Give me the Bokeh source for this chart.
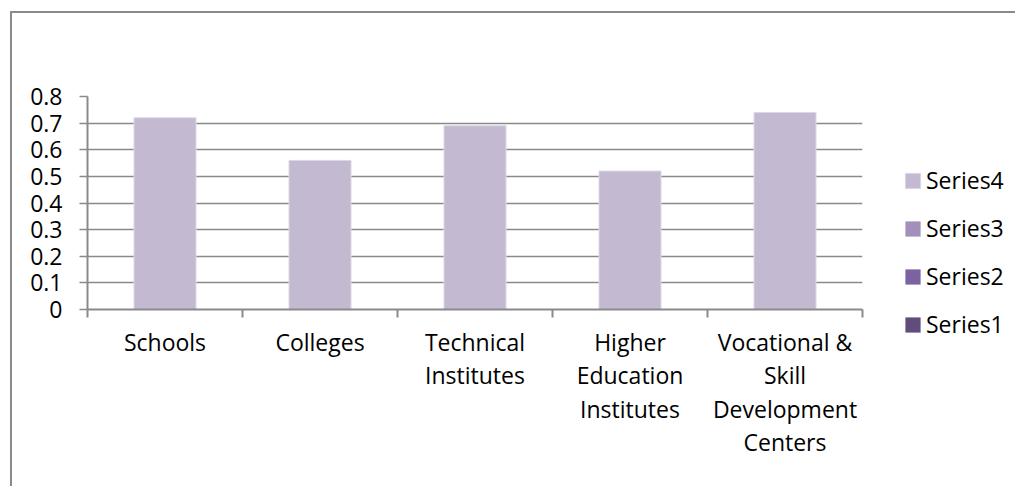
from bokeh.plotting import figure
from bokeh.models import (ColumnDataSource, FixedTicker, NumeralTickFormatter, Legend,
                          LegendItem, Range1d)
from bokeh.embed import file_html
from bokeh.resources import INLINE

# ---- data ----
categories = ["Schools", "Colleges", "Technical Institutes",
              "Higher Education Institutes", "Vocational & Skill Development Centers"]
category_labels = ["Schools", "Colleges", "Technical\nInstitutes",
                   "Higher\nEducation\nInstitutes", "Vocational &\nSkill\nDevelopment\nCenters"]
series_names = ["Series1", "Series2", "Series3", "Series4"]
series1 = [0, 0, 0, 0, 0]
series2 = [0, 0, 0, 0, 0]
series3 = [0, 0, 0, 0, 0]
series4 = [0.72, 0.56, 0.69, 0.52, 0.74]
series_colors = ["#614D7C", "#7C62A0", "#A28FBB", "#C3BAD1"]
y_ticks = [0, 0.1, 0.2, 0.3, 0.4, 0.5, 0.6, 0.7, 0.8]

FONT = "Open Sans"
FS = "23px"
GRID = "#8a8a8a"

xpos = [i + 0.5 for i in range(len(categories))]
source = ColumnDataSource(dict(x=xpos, Series1=series1, Series2=series2,
                               Series3=series3, Series4=series4))

p = figure(frame_width=775, frame_height=213, output_backend="svg", toolbar_location=None,
           x_range=Range1d(0, len(categories)), y_range=Range1d(0, 0.8),
           min_border_left=75, min_border_right=153, min_border_top=83,
           min_border_bottom=177)
p.styles = {"margin-left": "10px", "margin-top": "11px",
            "border-left": "2px solid #8a8a8a", "border-top": "2px solid #8a8a8a"}
p.outline_line_color = None
p.background_fill_color = "white"
p.border_fill_color = "white"

renderers = p.vbar_stack(series_names, x="x", width=0.4, source=source,
                         fill_color=series_colors,
                         line_color=["rgba(0,0,0,0)", "rgba(0,0,0,0)", "rgba(0,0,0,0)", "#DCD6E5"],
                         line_width=1)

# axes
p.xgrid.visible = False
p.ygrid.grid_line_color = GRID
p.ygrid.grid_line_width = 1.5

p.yaxis.ticker = FixedTicker(ticks=y_ticks)
p.yaxis.formatter = NumeralTickFormatter(format="0.[0]")
p.yaxis.axis_line_color = GRID
p.yaxis.axis_line_width = 2
p.yaxis.major_tick_line_color = GRID
p.yaxis.major_tick_line_width = 1.5
p.yaxis.major_tick_out = 8
p.yaxis.major_tick_in = 0
p.yaxis.minor_tick_line_color = None
p.yaxis.major_label_standoff = 17
p.yaxis.major_label_text_font = FONT
p.yaxis.major_label_text_font_size = FS
p.yaxis.major_label_text_color = "black"

p.xaxis.ticker = FixedTicker(ticks=xpos, minor_ticks=list(range(len(categories) + 1)))
p.xaxis.major_label_overrides = {x: lab for x, lab in zip(xpos, category_labels)}
p.xaxis.axis_line_color = GRID
p.xaxis.axis_line_width = 2
p.xaxis.major_tick_line_color = None
p.xaxis.major_tick_out = 0
p.xaxis.major_tick_in = 0
p.xaxis.minor_tick_line_color = GRID
p.xaxis.minor_tick_line_width = 2
p.xaxis.minor_tick_out = 8
p.xaxis.minor_tick_in = 0
p.xaxis.major_label_standoff = 8
p.xaxis.major_label_text_font = FONT
p.xaxis.major_label_text_font_size = FS
p.xaxis.major_label_text_color = "black"
p.xaxis.major_label_text_line_height = 1.05

# legend (in the right-hand panel)
items = [LegendItem(label=name, renderers=[r]) for name, r in zip(series_names, renderers)][::-1]
legend = Legend(items=items, location=(41, -31), orientation="vertical",
                glyph_width=19, glyph_height=19, label_height=20, label_standoff=4,
                spacing=16, padding=0, margin=0, border_line_color=None,
                background_fill_alpha=0, label_text_font=FONT,
                label_text_font_size=FS, label_text_color="black")
p.add_layout(legend, "right")

open("out.html", "w").write(file_html(p, INLINE))
